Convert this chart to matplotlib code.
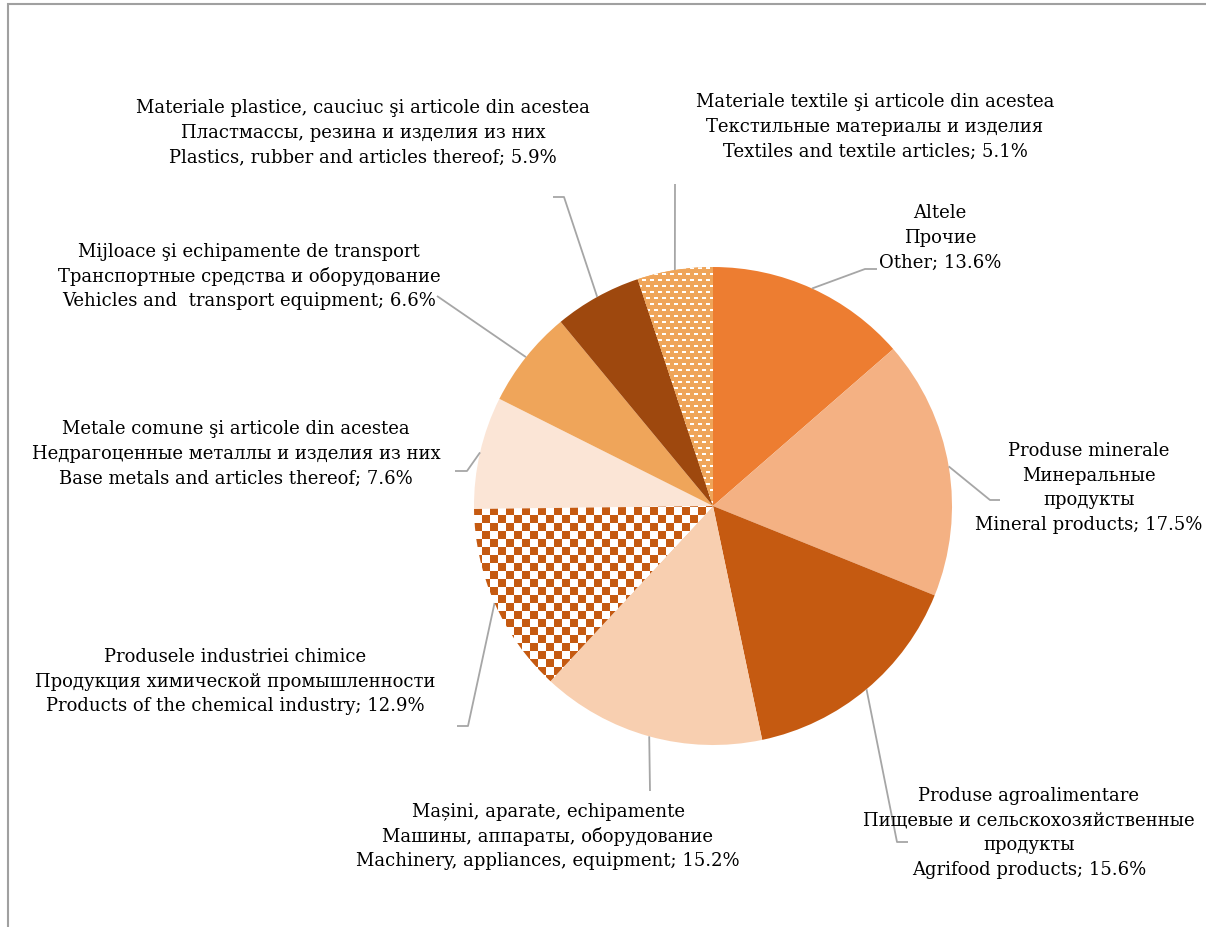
import numpy as np
import matplotlib
matplotlib.use("Agg")
import matplotlib.pyplot as plt
from matplotlib.patches import Rectangle

plt.rcParams['font.family'] = ['DejaVu Serif', 'Liberation Serif']

# data (share of exports, %)
ro_names = ["Altele", "Produse minerale", "Produse agroalimentare",
            "Mașini, aparate, echipamente", "Produsele industriei chimice",
            "Metale comune şi articole din acestea",
            "Mijloace şi echipamente de transport",
            "Materiale plastice, cauciuc şi articole din acestea",
            "Materiale textile şi articole din acestea"]
ru_names = ["Прочие", "Минеральные\nпродукты", "Пищевые и сельскохозяйственные\nпродукты",
            "Машины, аппараты, оборудование", "Продукция химической промышленности",
            "Недрагоценные металлы и изделия из них",
            "Транспортные средства и оборудование",
            "Пластмассы, резина и изделия из них",
            "Текстильные материалы и изделия"]
en_names = ["Other", "Mineral products", "Agrifood products",
            "Machinery, appliances, equipment", "Products of the chemical industry",
            "Base metals and articles thereof", "Vehicles and  transport equipment",
            "Plastics, rubber and articles thereof", "Textiles and textile articles"]
shares = [13.6, 17.5, 15.6, 15.2, 12.9, 7.6, 6.6, 5.9, 5.1]
colors = ["#ED7D31", "#F4B183", "#C55A11", "#F8CFB0", "#FFFFFF",
          "#FBE5D6", "#EFA55A", "#9E480E", "#EFA55A"]

W, H = 1206, 928
cx, cy, R = 713, 507, 239

def Y(y):
    return H - y

fig = plt.figure(figsize=(W / 100, H / 100), dpi=100)
ax = fig.add_axes([0, 0, 1, 1])

wedges, _ = ax.pie(shares, colors=colors, startangle=90, counterclock=False,
                   center=(cx, Y(cy)), radius=R, wedgeprops=dict(linewidth=0))

# patterned wedges: checkerboard (chemical) and dashes (textiles)
ext = [cx - R, cx + R, Y(cy) - R, Y(cy) + R]
n = 2 * R
yy, xx = np.mgrid[0:n, 0:n]
chk = ((xx // 8 + yy // 8) % 2 == 0)
img = np.ones((n, n, 3))
img[chk] = matplotlib.colors.to_rgb("#C55A11")
im = ax.imshow(img, extent=ext, origin='upper', interpolation='nearest', zorder=2)
im.set_clip_path(wedges[4])

off = np.where((yy // 6) % 2 == 0, 0, 4)
dash = ((yy % 6) < 2) & (((xx + off) % 8) < 4)
img2 = np.ones((n, n, 3)) * np.array(matplotlib.colors.to_rgb("#EFA55A"))
img2[dash] = [1, 1, 1]
im2 = ax.imshow(img2, extent=ext, origin='upper', interpolation='nearest', zorder=2)
im2.set_clip_path(wedges[8])

ax.set_xlim(0, W)
ax.set_ylim(0, H)
ax.set_aspect('auto')
ax.axis('off')

# label layout: center x, first line y, leader path after the wedge edge point
lab_pos = [(940, 213), (1089, 451), (1029, 796), (548, 812), (235, 657),
           (236, 429), (249, 252), (363, 108), (875, 102)]
leaders = [[(865, 270), (877, 270)],
           [(990, 501), (1000, 501)],
           [(897, 843), (908, 843)],
           [(650, 792)],
           [(468, 727), (457, 727)],
           [(467, 472), (455, 472)],
           [(437, 297)],
           [(564, 198), (553, 198)],
           [(675, 185)]]

ang = 90.0
for i, s in enumerate(shares):
    mid = np.deg2rad(ang - s * 3.6 / 2)
    ang -= s * 3.6
    ex, ey = cx + R * np.cos(mid), cy - R * np.sin(mid)
    px = [ex] + [p[0] for p in leaders[i]]
    py = [ey] + [p[1] for p in leaders[i]]
    ax.plot(px, [Y(v) for v in py], color="#A6A6A6", lw=1.3, zorder=1,
            solid_capstyle='butt')
    lines = [ro_names[i]] + ru_names[i].split("\n") + [f"{en_names[i]}; {s}%"]
    lx, ly = lab_pos[i]
    for k, t in enumerate(lines):
        ax.text(lx, Y(ly + k * 24.7), t, ha='center', va='center',
                fontsize=13, color="#000000", zorder=3)

# outer frame
ax.add_patch(Rectangle((8, Y(5) - 2000), 2000, 2000, fill=False,
                       edgecolor="#A0A0A0", lw=1.5, zorder=4))

fig.savefig("out.png", dpi=100, facecolor="white")
